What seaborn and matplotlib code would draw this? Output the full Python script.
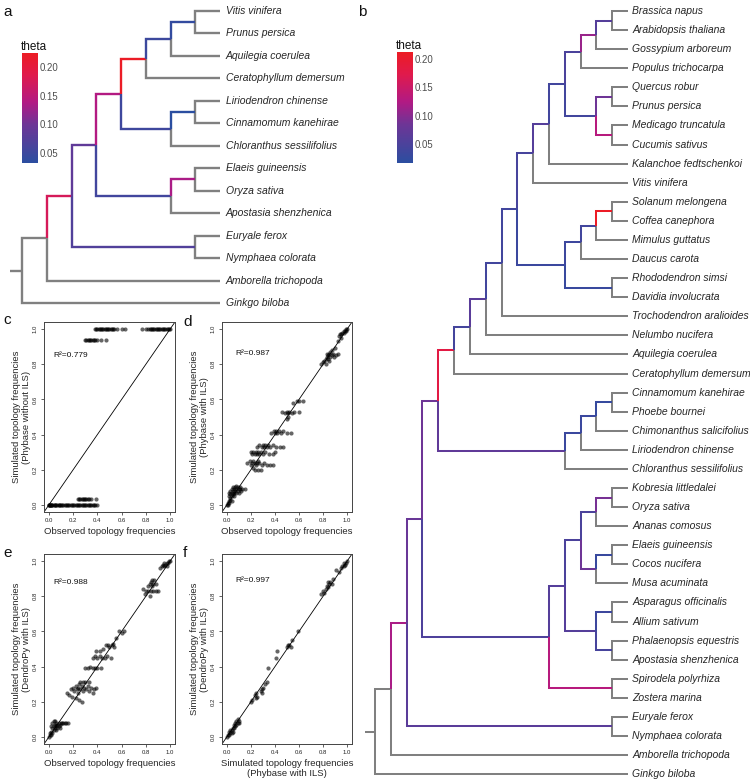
import numpy as np
import pandas as pd
import matplotlib
matplotlib.use("Agg")
import matplotlib.pyplot as plt
import seaborn as sns
from matplotlib.colors import LinearSegmentedColormap, Normalize
from matplotlib.cm import ScalarMappable

sns.set_theme(style="white")
plt.rcParams['font.family'] = ['Liberation Sans', 'DejaVu Sans']

# ---------------- data ----------------
# Trees (topology as Newick; value after ':' on an internal clade = theta, none = NA)
tree_a = ("((((((((Vitis vinifera,Prunus persica):0.040,Aquilegia coerulea):0.050,"
          "Ceratophyllum demersum):0.222,((Liriodendron chinense,Cinnamomum kanehirae):0.033,"
          "Chloranthus sessilifolius):0.052):0.140,((Elaeis guineensis,Oryza sativa):0.135,"
          "Apostasia shenzhenica):0.055):0.085,(Euryale ferox,Nymphaea colorata):0.070):0.175,"
          "Amborella trichopoda),Ginkgo biloba);")

tree_b = ("((((((((((((((((Brassica napus,Arabidopsis thaliana):0.060,Gossypium arboreum):0.110,"
          "Populus trichocarpa):0.050,((Quercus robur,Prunus persica):0.085,"
          "(Medicago truncatula,Cucumis sativus):0.130):0.040):0.040,Kalanchoe fedtschenkoi):0.060,"
          "Vitis vinifera):0.045,((((Solanum melongena,Coffea canephora):0.210,Mimulus guttatus):0.040,"
          "Daucus carota):0.035,(Rhododendron simsi,Davidia involucrata):0.030):0.033):0.040,"
          "Trochodendron aralioides):0.040,Nelumbo nucifera):0.065,Aquilegia coerulea):0.042,"
          "Ceratophyllum demersum):0.180,((((Cinnamomum kanehirae,Phoebe bournei):0.028,"
          "Chimonanthus salicifolius):0.033,Liriodendron chinense):0.033,"
          "Chloranthus sessilifolius):0.070):0.085,(((((Kobresia littledalei,Oryza sativa):0.090,"
          "Ananas comosus):0.050,((Elaeis guineensis,Cocos nucifera):0.030,Musa acuminata):0.085):0.050,"
          "((Asparagus officinalis,Allium sativum):0.035,(Phalaenopsis equestris,"
          "Apostasia shenzhenica):0.045):0.060):0.060,(Spirodela polyrhiza,Zostera marina):0.130):0.052)"
          ":0.080,(Euryale ferox,Nymphaea colorata):0.065):0.120,Amborella trichopoda),Ginkgo biloba);")

theta_range_a = (0.0325, 0.2245)
theta_range_b = (0.0165, 0.212)
theta_ticks = [0.05, 0.10, 0.15, 0.20]

# Panel c: simulated (Phybase without ILS) value -> observed frequencies on that row
c_rows = {
    0.0: [0.00, 0.00, 0.00, 0.01, 0.01, 0.02, 0.02, 0.03, 0.03, 0.04, 0.05, 0.05, 0.06, 0.07,
          0.08, 0.08, 0.09, 0.10, 0.11, 0.12, 0.13, 0.14, 0.15, 0.16, 0.17, 0.18, 0.19, 0.20,
          0.21, 0.22, 0.23, 0.24, 0.25, 0.26, 0.27, 0.28, 0.29, 0.30, 0.31, 0.32, 0.33, 0.34,
          0.35, 0.36, 0.37, 0.38, 0.40],
    0.033: [0.24, 0.25, 0.26, 0.27, 0.28, 0.29, 0.30, 0.31, 0.32, 0.33, 0.35, 0.39],
    0.935: [0.30, 0.31, 0.32, 0.33, 0.34, 0.35, 0.36, 0.37, 0.38, 0.40, 0.43, 0.47],
    1.0: [0.38, 0.39, 0.40, 0.41, 0.42, 0.43, 0.44, 0.45, 0.46, 0.47, 0.48, 0.49, 0.50, 0.51,
          0.52, 0.53, 0.54, 0.56, 0.60, 0.63, 0.77, 0.80, 0.82, 0.83, 0.84, 0.85, 0.86, 0.87,
          0.88, 0.89, 0.90, 0.91, 0.92, 0.93, 0.94, 0.95, 0.96, 0.97, 0.98, 0.99, 1.00],
}

d_pts = [(0.00,0.00),(0.01,0.00),(0.01,0.01),(0.02,0.02),(0.02,0.01),(0.03,0.03),(0.03,0.04),
         (0.04,0.02),(0.02,0.05),(0.03,0.06),(0.04,0.07),(0.05,0.06),(0.05,0.08),(0.06,0.09),
         (0.06,0.07),(0.07,0.08),(0.07,0.10),(0.08,0.09),(0.08,0.07),(0.09,0.08),(0.09,0.10),
         (0.10,0.09),(0.10,0.07),(0.11,0.09),(0.12,0.08),(0.13,0.09),(0.04,0.09),(0.05,0.10),
         (0.03,0.08),(0.06,0.05),(0.08,0.11),(0.11,0.10),(0.15,0.09),(0.02,0.07),(0.04,0.05),
         (0.17,0.24),(0.19,0.25),(0.20,0.23),(0.21,0.24),(0.22,0.25),(0.23,0.24),(0.24,0.23),
         (0.25,0.24),(0.26,0.25),(0.27,0.24),(0.29,0.23),(0.31,0.24),(0.33,0.23),(0.36,0.23),
         (0.38,0.23),(0.22,0.21),(0.23,0.20),(0.26,0.20),(0.28,0.20),
         (0.20,0.30),(0.21,0.29),(0.22,0.30),(0.23,0.29),(0.24,0.30),(0.25,0.29),(0.26,0.30),
         (0.27,0.29),(0.28,0.30),(0.30,0.29),(0.32,0.30),(0.35,0.29),(0.38,0.29),(0.40,0.30),
         (0.25,0.33),(0.27,0.34),(0.29,0.33),(0.30,0.34),(0.31,0.33),(0.32,0.34),(0.33,0.33),
         (0.34,0.34),(0.36,0.33),(0.38,0.34),(0.41,0.33),(0.44,0.33),(0.47,0.33),
         (0.37,0.41),(0.39,0.42),(0.40,0.41),(0.41,0.42),(0.42,0.41),(0.43,0.42),(0.45,0.41),
         (0.47,0.42),(0.50,0.41),(0.53,0.41),
         (0.46,0.53),(0.48,0.52),(0.50,0.53),(0.51,0.52),(0.52,0.53),(0.54,0.52),(0.56,0.53),
         (0.60,0.53),(0.51,0.50),(0.50,0.49),
         (0.55,0.58),(0.58,0.59),(0.60,0.59),(0.63,0.59),
         (0.78,0.80),(0.80,0.81),(0.81,0.82),(0.82,0.83),(0.83,0.84),(0.84,0.85),(0.85,0.86),
         (0.86,0.84),(0.87,0.85),(0.88,0.86),(0.85,0.82),(0.86,0.87),(0.84,0.83),(0.89,0.84),
         (0.91,0.85),(0.87,0.88),(0.83,0.86),(0.90,0.89),(0.82,0.80),(0.92,0.86),
         (0.93,0.96),(0.94,0.97),(0.95,0.97),(0.96,0.98),(0.97,0.98),(0.98,0.99),(0.99,0.99),
         (1.00,1.00),(0.97,0.99),(0.99,1.00),(0.95,0.95),(0.92,0.93)]

e_pts = [(0.00,0.00),(0.01,0.01),(0.01,0.02),(0.02,0.01),(0.02,0.03),(0.03,0.02),(0.03,0.05),
         (0.04,0.04),(0.04,0.06),(0.05,0.05),(0.05,0.07),(0.06,0.06),(0.06,0.08),(0.07,0.07),
         (0.07,0.05),(0.08,0.06),(0.08,0.08),(0.09,0.07),(0.10,0.08),(0.11,0.08),(0.12,0.08),
         (0.13,0.08),(0.14,0.08),(0.16,0.08),(0.03,0.08),(0.04,0.09),(0.05,0.09),(0.02,0.06),
         (0.09,0.05),(0.06,0.04),
         (0.15,0.25),(0.17,0.24),(0.18,0.27),(0.20,0.28),(0.21,0.26),(0.22,0.29),(0.23,0.27),
         (0.24,0.28),(0.25,0.30),(0.26,0.27),(0.27,0.29),(0.28,0.26),(0.29,0.28),(0.30,0.31),
         (0.31,0.27),(0.32,0.29),(0.33,0.26),(0.35,0.28),(0.37,0.27),(0.39,0.28),(0.24,0.25),
         (0.26,0.31),(0.28,0.31),(0.33,0.31),(0.22,0.22),(0.25,0.21),(0.27,0.20),(0.19,0.23),
         (0.36,0.25),
         (0.30,0.39),(0.32,0.39),(0.34,0.40),(0.36,0.39),(0.38,0.39),(0.40,0.39),(0.43,0.39),
         (0.36,0.45),(0.38,0.46),(0.40,0.45),(0.42,0.46),(0.44,0.45),(0.46,0.45),(0.48,0.46),
         (0.51,0.45),(0.39,0.49),(0.42,0.49),(0.45,0.50),
         (0.47,0.52),(0.49,0.52),(0.50,0.51),(0.52,0.52),(0.54,0.51),(0.53,0.53),
         (0.58,0.60),(0.60,0.59),(0.62,0.60),(0.55,0.56),
         (0.78,0.84),(0.80,0.83),(0.82,0.83),(0.84,0.83),(0.86,0.83),(0.88,0.83),(0.90,0.83),
         (0.82,0.86),(0.83,0.87),(0.84,0.88),(0.85,0.86),(0.86,0.87),(0.87,0.89),(0.85,0.89),
         (0.88,0.87),(0.79,0.81),(0.83,0.80),
         (0.92,0.96),(0.93,0.97),(0.94,0.98),(0.95,0.97),(0.96,0.98),(0.97,0.99),(0.98,0.99),
         (0.99,1.00),(1.00,1.00),(0.97,0.97),(0.95,0.99)]

f_pts = [(0.00,0.00),(0.01,0.01),(0.02,0.01),(0.02,0.03),(0.03,0.02),(0.04,0.04),(0.05,0.03),
         (0.05,0.05),(0.06,0.05),(0.06,0.07),(0.07,0.06),(0.07,0.08),(0.08,0.07),(0.08,0.09),
         (0.09,0.08),(0.09,0.10),(0.10,0.09),(0.10,0.08),(0.04,0.02),(0.03,0.04),
         (0.20,0.20),(0.21,0.21),(0.23,0.24),(0.24,0.25),(0.25,0.23),(0.24,0.22),(0.28,0.26),
         (0.29,0.27),(0.30,0.28),(0.29,0.25),(0.32,0.30),(0.33,0.31),(0.34,0.39),(0.41,0.45),
         (0.42,0.49),(0.50,0.51),(0.51,0.52),(0.52,0.52),(0.53,0.51),(0.54,0.55),(0.59,0.60),
         (0.78,0.81),(0.80,0.83),(0.81,0.82),(0.82,0.84),(0.83,0.86),(0.84,0.85),(0.85,0.87),
         (0.86,0.88),(0.87,0.87),(0.88,0.90),(0.84,0.88),(0.91,0.95),(0.93,0.94),(0.95,0.96),
         (0.96,0.97),(0.97,0.97),(0.98,0.98),(0.99,0.99),(1.00,1.00),(0.97,0.99)]

r2_labels = {"c": "R\u00b2=0.779", "d": "R\u00b2=0.987", "e": "R\u00b2=0.988", "f": "R\u00b2=0.997"}
xlabels = {"c": "Observed topology frequencies", "d": "Observed topology frequencies",
           "e": "Observed topology frequencies",
           "f": "Simulated topology frequencies\n(Phybase with ILS)"}
ylabels = {"c": "Simulated topology frequencies\n(Phybase without ILS)",
           "d": "Simulated topology frequencies\n(Phybase with ILS)",
           "e": "Simulated topology frequencies\n(DendroPy with ILS)",
           "f": "Simulated topology frequencies\n(DendroPy with ILS)"}
freq_ticks = [0.0, 0.2, 0.4, 0.6, 0.8, 1.0]
freq_ticklabels = ["0.0", "0.2", "0.4", "0.6", "0.8", "1.0"]

# ---------------- helpers ----------------
W, Hpx = 750, 784
fig = plt.figure(figsize=(W / 100, Hpx / 100), dpi=100)
fig.patch.set_facecolor("white")

cmap = LinearSegmentedColormap.from_list(
    "theta", [(0.0, "#2B4EA0"), (0.35, "#6E3596"), (0.55, "#B11A84"),
              (0.8, "#E01A4C"), (1.0, "#EC1C24")])
GREY = "#808080"


def parse_newick(s):
    s = s.strip().rstrip(";")
    pos = 0

    def node():
        nonlocal pos
        n = {"children": [], "name": None, "theta": None}
        if s[pos] == "(":
            pos += 1
            while True:
                n["children"].append(node())
                if s[pos] == ",":
                    pos += 1
                    continue
                pos += 1
                break
        start = pos
        while pos < len(s) and s[pos] not in ",():":
            pos += 1
        nm = s[start:pos].strip()
        if nm:
            n["name"] = nm
        if pos < len(s) and s[pos] == ":":
            pos += 1
            start = pos
            while pos < len(s) and s[pos] not in ",()":
                pos += 1
            n["theta"] = float(s[start:pos])
        return n

    return node()


def layout(root):
    def height(n):
        n["h"] = 0 if not n["children"] else 1 + max(height(c) for c in n["children"])
        return n["h"]
    H = height(root)
    cnt = [0]

    def assign(n):
        n["x"] = H - n["h"]
        if not n["children"]:
            n["y"] = cnt[0]
            cnt[0] += 1
        else:
            for c in n["children"]:
                assign(c)
            n["y"] = float(np.mean([c["y"] for c in n["children"]]))
    assign(root)
    return H, cnt[0]


def draw_tree(ax, newick, norm, lw, stub, label_off):
    root = parse_newick(newick)
    H, ntip = layout(root)
    edges = []

    def rec(n, parent):
        if parent is not None:
            edges.append((n, parent))
        for c in n["children"]:
            rec(c, n)
    rec(root, None)
    edges.sort(key=lambda e: e[0]["theta"] is not None)
    for n, p in edges:
        col = GREY if n["theta"] is None else cmap(norm(n["theta"]))
        ax.plot([p["x"], p["x"], n["x"]], [p["y"], n["y"], n["y"]], color=col, lw=lw,
                solid_joinstyle="miter", solid_capstyle="butt")
        if not n["children"]:
            ax.annotate(n["name"], (n["x"], n["y"]), xytext=(label_off, 0),
                        textcoords="offset points", va="center", ha="left",
                        fontsize=7.5, style="italic", color="#262626")
    ax.plot([stub, 0], [root["y"], root["y"]], color=GREY, lw=lw, solid_capstyle="butt")
    ax.set_xlim(stub, H)
    ax.set_ylim(ntip - 0.5, -0.5)
    ax.axis("off")


def add_colorbar(rect, norm):
    cax = fig.add_axes(rect)
    cb = fig.colorbar(ScalarMappable(norm=norm, cmap=cmap), cax=cax, ticks=theta_ticks)
    cb.outline.set_visible(False)
    cax.set_yticklabels(["%.2f" % t for t in theta_ticks])
    cax.yaxis.set_ticks_position("both")
    cax.tick_params(axis="y", direction="in", color="white", length=3, width=0.7,
                    labelsize=6.9, labelcolor="#4D4D4D", pad=1.5)
    cax.set_title("theta", fontsize=8.5, loc="left", pad=2.5, x=-0.1, color="#111111")


def px_axes(x0, y0, x1, y1):
    return fig.add_axes([x0 / W, 1 - y1 / Hpx, (x1 - x0) / W, (y1 - y0) / Hpx])


# ---------------- tree a ----------------
ua = 24.75
ya = 22.46
ax_a = px_axes(22 - 0.5 * ua, 11 - 0.5 * ya, 220, 11 + 13.5 * ya)
norm_a = Normalize(*theta_range_a)
draw_tree(ax_a, tree_a, norm_a, lw=1.7, stub=-0.5, label_off=4.3)
add_colorbar([22 / W, 1 - 163 / Hpx, 16 / W, 110 / Hpx], norm_a)

# ---------------- tree b ----------------
ub = (628 - 375) / 16
yb = 19.08
ax_b = px_axes(375 - 0.63 * ub, 11 - 0.5 * yb, 628, 11 + 40.5 * yb)
norm_b = Normalize(*theta_range_b)
draw_tree(ax_b, tree_b, norm_b, lw=1.45, stub=-0.63, label_off=3.0)
add_colorbar([397 / W, 1 - 163 / Hpx, 16 / W, 111 / Hpx], norm_b)

# ---------------- scatter panels ----------------
c_df = pd.DataFrame([(x, y) for y, xs in c_rows.items() for x in xs], columns=["obs", "sim"])
d_df = pd.DataFrame(d_pts, columns=["obs", "sim"])
e_df = pd.DataFrame(e_pts, columns=["obs", "sim"])
f_df = pd.DataFrame(f_pts, columns=["obs", "sim"])

boxes = {"c": (44, 322, 175, 512), "d": (222, 322, 352, 512),
         "e": (44, 554, 175, 744), "f": (222, 554, 352, 744)}
dfs = {"c": c_df, "d": d_df, "e": e_df, "f": f_df}
r2_pos = {"c": (0.04, 0.85), "d": (0.07, 0.86), "e": (0.04, 0.88), "f": (0.07, 0.89)}

for key in ["c", "d", "e", "f"]:
    x0, y0, x1, y1 = boxes[key]
    ax = px_axes(x0, y0, x1, y1)
    sns.scatterplot(data=dfs[key], x="obs", y="sim", ax=ax, color="black", alpha=0.6,
                    s=9, linewidth=0, legend=False)
    ax.axline((0, 0), (1, 1), color="black", lw=0.6)
    ax.set_xlim(-0.04, 1.04)
    ax.set_ylim(-0.04, 1.04)
    ax.set_xticks(freq_ticks)
    ax.set_xticklabels(freq_ticklabels)
    ax.set_yticks(freq_ticks)
    ax.set_yticklabels(freq_ticklabels, rotation=90, va="center")
    ax.tick_params(axis="both", direction="out", length=2, width=0.5, labelsize=4.3,
                   pad=2.5, colors="#222222", bottom=True, left=True)
    for sp in ax.spines.values():
        sp.set_color("#444444")
        sp.set_linewidth(0.7)
    ax.set_xlabel(xlabels[key], fontsize=6.8, labelpad=3, linespacing=1.15)
    ax.set_ylabel(ylabels[key], fontsize=6.8, labelpad=1.5, linespacing=1.15)
    ax.text(r2_pos[key][0], r2_pos[key][1], r2_labels[key], fontsize=6, va="center",
            ha="left", color="#111111")

# panel letters
for lab, (px, py) in {"a": (3, 12), "b": (358, 12), "c": (3, 320), "d": (183, 322),
                      "e": (3, 553), "f": (183, 553)}.items():
    fig.text(px / W, 1 - py / Hpx, lab, fontsize=11, va="center", ha="left", color="#111111")

fig.savefig("out.png", dpi=100, facecolor="white")
